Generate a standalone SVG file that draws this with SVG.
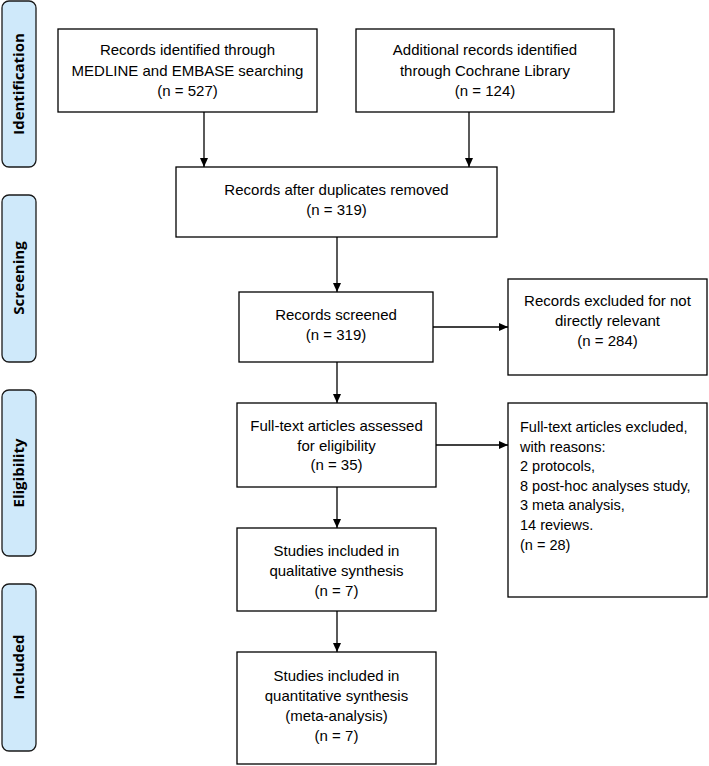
<svg xmlns="http://www.w3.org/2000/svg" width="709" height="766" viewBox="0 0 709 766">
<style>
.box{fill:#fff;stroke:#000;stroke-width:1.3}
.side{fill:#cfe9fa;stroke:#1a1a1a;stroke-width:1.3}
.t{font-family:"Liberation Sans",Arial,sans-serif;font-size:15px;fill:#000}
.sm{font-size:14.5px}
.c{text-anchor:middle}
.s{font-family:"Open Sans","Liberation Sans",sans-serif;font-size:15px;font-weight:bold;fill:#000;text-anchor:middle}
.ln{stroke:#000;stroke-width:1.3;fill:none;marker-end:url(#ah)}
</style>
<defs>
<marker id="ah" markerWidth="10" markerHeight="10" refX="9" refY="4" orient="auto" markerUnits="userSpaceOnUse">
<path d="M0,0 L9,4 L0,8 Z" fill="#000"/>
</marker>
</defs>
<g id="phase-identification"><rect class="side" x="2" y="1" width="34" height="166" rx="7"/><text class="s" transform="translate(24,84) rotate(-90)">Identification</text></g>
<g id="phase-screening"><rect class="side" x="2" y="195" width="34" height="167" rx="7"/><text class="s" transform="translate(24,278) rotate(-90)">Screening</text></g>
<g id="phase-eligibility"><rect class="side" x="2" y="390" width="34" height="166" rx="7"/><text class="s" transform="translate(24,473) rotate(-90)">Eligibility</text></g>
<g id="phase-included"><rect class="side" x="2" y="584" width="34" height="167" rx="7"/><text class="s" transform="translate(24,667) rotate(-90)">Included</text></g>

<g id="connectors">
<line class="ln" x1="204" y1="112" x2="204" y2="167"/>
<line class="ln" x1="469" y1="112" x2="469" y2="167"/>
<line class="ln" x1="337" y1="237" x2="337" y2="292"/>
<line class="ln" x1="433" y1="327" x2="508" y2="327"/>
<line class="ln" x1="337" y1="362" x2="337" y2="403"/>
<line class="ln" x1="436" y1="445" x2="508" y2="445"/>
<line class="ln" x1="337" y1="487" x2="337" y2="528"/>
<line class="ln" x1="337" y1="611" x2="337" y2="652"/>
</g>

<g id="n1"><rect class="box" x="58" y="29" width="259" height="83"/>
<text class="t c" x="187.5" y="55">Records identified through</text>
<text class="t c" x="187.5" y="75.5">MEDLINE and EMBASE searching</text>
<text class="t c" x="187.5" y="96">(n = 527)</text></g>

<g id="n2"><rect class="box" x="356" y="29" width="258" height="83"/>
<text class="t c" x="485" y="55">Additional records identified</text>
<text class="t c" x="485" y="75.5">through Cochrane Library</text>
<text class="t c" x="485" y="96">(n = 124)</text></g>

<g id="n3"><rect class="box" x="176" y="167" width="321" height="70"/>
<text class="t c" x="336.5" y="195">Records after duplicates removed</text>
<text class="t c" x="336.5" y="215">(n = 319)</text></g>

<g id="n4"><rect class="box" x="239" y="292" width="194" height="70"/>
<text class="t c" x="336" y="320">Records screened</text>
<text class="t c" x="336" y="340">(n = 319)</text></g>

<g id="n5"><rect class="box" x="508" y="279" width="199" height="96"/>
<text class="t c" x="607.5" y="306">Records excluded for not</text>
<text class="t c" x="607.5" y="326">directly relevant</text>
<text class="t c" x="607.5" y="346">(n = 284)</text></g>

<g id="n6"><rect class="box" x="237" y="403" width="199" height="84"/>
<text class="t c" x="336.5" y="431">Full-text articles assessed</text>
<text class="t c" x="336.5" y="450.5">for eligibility</text>
<text class="t c" x="336.5" y="470">(n = 35)</text></g>

<g id="n7"><rect class="box" x="508" y="403" width="199" height="194"/>
<text class="t sm" x="520" y="432">Full-text articles excluded,</text>
<text class="t sm" x="520" y="451.5">with reasons:</text>
<text class="t sm" x="520" y="471">2 protocols,</text>
<text class="t sm" x="520" y="490.5">8 post-hoc analyses study,</text>
<text class="t sm" x="520" y="510">3 meta analysis,</text>
<text class="t sm" x="520" y="530">14 reviews.</text>
<text class="t sm" x="520" y="549.5">(n = 28)</text></g>

<g id="n8"><rect class="box" x="237" y="528" width="199" height="83"/>
<text class="t c" x="336.5" y="556">Studies included in</text>
<text class="t c" x="336.5" y="576">qualitative synthesis</text>
<text class="t c" x="336.5" y="596">(n = 7)</text></g>

<g id="n9"><rect class="box" x="237" y="652" width="199" height="112"/>
<text class="t c" x="336.5" y="681">Studies included in</text>
<text class="t c" x="336.5" y="701">quantitative synthesis</text>
<text class="t c" x="336.5" y="721">(meta-analysis)</text>
<text class="t c" x="336.5" y="741">(n = 7)</text></g>
</svg>
